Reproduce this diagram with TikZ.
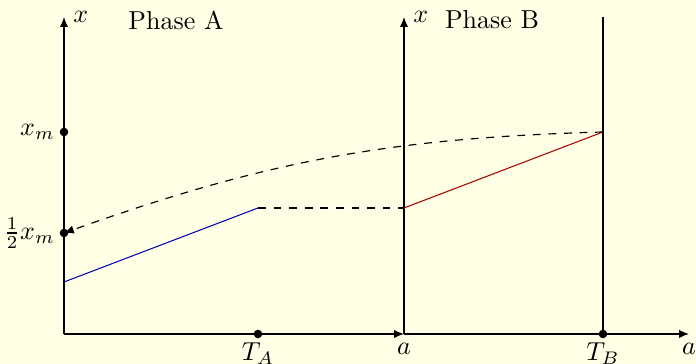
\documentclass[tikz,border=0pt]{standalone}
\usetikzlibrary{arrows.meta}
\definecolor{bgyellow}{RGB}{255,255,230}
\definecolor{lineblue}{RGB}{0,0,180}
\definecolor{linered}{RGB}{170,0,0}
\tikzset{
  tip/.style={-{Latex[length=3.8pt,width=3.2pt]}},
  axis/.style={line width=0.5pt,tip},
  plain/.style={line width=0.5pt},
  dot/.style={circle,fill=black,inner sep=0pt,minimum size=3.3pt},
  dashline/.style={dashed,line width=0.45pt},
}
\begin{document}
\begin{tikzpicture}[x=0.385pt,y=0.385pt]
\fill[bgyellow] (0,0) rectangle (696,364);
\useasboundingbox (0,0) rectangle (696,364);
% key points (y = 364 - pixel row)
\coordinate (O) at (64,30);
\coordinate (ytopA) at (64,347);
\coordinate (aB) at (404,30);
\coordinate (ytopB) at (404,347);
\coordinate (TBtop) at (603,347);
\coordinate (aend) at (689,30);
\coordinate (P1) at (64,82);
\coordinate (P2) at (258,156);
\coordinate (P3) at (404,156);
\node[dot] (xm) at (64,232) {};
\node[dot] (hxm) at (64,131) {};
\node[dot] (TA) at (258,30) {};
\node[dot] (TB) at (603,30) {};
\coordinate (TBxm) at (603,232);
% axes
\draw[axis] (O) -- (ytopA) node[right] {$x$};
\draw[axis] (O) -- (aB);
\draw[axis] (aB) -- (aend);
\draw[axis] (aB) -- (ytopB) node[right] {$x$};
\draw[plain] (TB.center) -- (TBtop);
% labels
\node[left] at (xm) {$x_m$};
\node[left] at (hxm) {$\frac{1}{2}x_m$};
\node[below] at (TA) {$T_A$};
\node[below] at (aB) {$a$};
\node[below] at (TB) {$T_B$};
\node[below] at (aend) {$a$};
\node (phA) at (176,344) {Phase A};
\node (phB) at (492,344) {Phase B};
% curves
\draw[lineblue,line width=0.4pt] (P1) -- (P2);
\draw[dashline] (P2) -- (P3);
\draw[linered,line width=0.4pt] (P3) -- (TBxm);
\draw[dashline,tip] (TBxm) to[bend right=9] (hxm.center);
\end{tikzpicture}
\end{document}
